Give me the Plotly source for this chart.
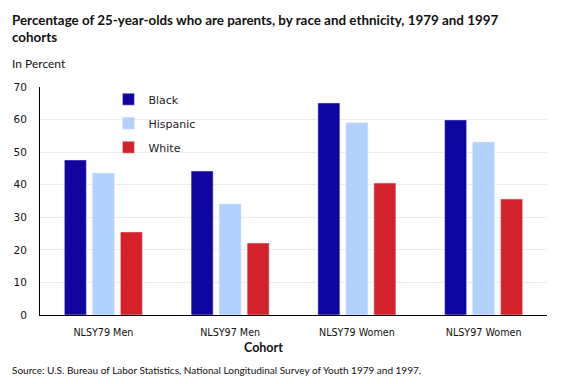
import plotly.graph_objects as go

categories = ["NLSY79 Men", "NLSY97 Men", "NLSY79 Women", "NLSY97 Women"]
black = [47.6, 44.2, 65.1, 59.9]
hispanic = [43.6, 34.1, 59.0, 53.1]
white = [25.5, 22.1, 40.5, 35.6]
series = [("Black", black, "#10069f"), ("Hispanic", hispanic, "#b1d2fc"), ("White", white, "#d3222a")]

fig = go.Figure()
for i, (name, vals, col) in enumerate(series):
    fig.add_trace(go.Bar(x=categories, y=vals, name=name, marker_color=col,
                         legendgroup=name, hoverinfo="x+y+name"))

fig.update_layout(
    width=581, height=384,
    margin=dict(l=40, r=34, t=87, b=69),
    plot_bgcolor="white", paper_bgcolor="white",
    barmode="group", bargap=0.337, bargroupgap=0.214,
    font=dict(family="DejaVu Sans", size=11, color="#222"),
    showlegend=True,
    legend=dict(x=0.135, y=1.01, xanchor="left", yanchor="top",
                font=dict(family="DejaVu Sans", size=11, color="#222"),
                traceorder="grouped", tracegroupgap=5, itemwidth=30,
                bgcolor="rgba(0,0,0,0)"),
    xaxis=dict(showline=True, linecolor="black", linewidth=1, ticks="",
               ticklabelstandoff=8,
               tickfont=dict(family="DejaVu Sans", size=9.6, color="#111")),
    yaxis=dict(range=[0, 70], dtick=10, showline=True, linecolor="black", linewidth=1,
               gridcolor="#ececec", ticks="", zeroline=False, ticklabelstandoff=10,
               tickfont=dict(family="DejaVu Sans", size=10.5, color="#111")),
)

fig.add_annotation(xref="paper", yref="paper", x=-0.059, y=1.0, xanchor="left", yanchor="bottom",
                   yshift=40, align="left", showarrow=False,
                   text="<b>Percentage of 25-year-olds who are parents, by race and ethnicity, 1979 and 1997<br>cohorts</b>",
                   font=dict(family="Lato", size=13.4, color="#111"))
fig.add_annotation(xref="paper", yref="paper", x=-0.059, y=1.0, xanchor="left", yanchor="bottom",
                   yshift=14, showarrow=False, text="In Percent",
                   font=dict(family="Lato", size=12, color="#111"))
fig.add_annotation(xref="paper", yref="paper", x=0.44, y=0, xanchor="center", yanchor="middle",
                   yshift=-32, showarrow=False, text="<b>Cohort</b>",
                   font=dict(family="Lato", size=12.5, color="#111"))
fig.add_annotation(xref="paper", yref="paper", x=-0.059, y=0, xanchor="left", yanchor="middle",
                   yshift=-55, showarrow=False,
                   text="Source: U.S. Bureau of Labor Statistics, National Longitudinal Survey of Youth 1979 and 1997.",
                   font=dict(family="Lato", size=10, color="#111"))

fig.write_html("out.html", config={"displayModeBar": False},
               post_script="document.body.style.margin='0';")
